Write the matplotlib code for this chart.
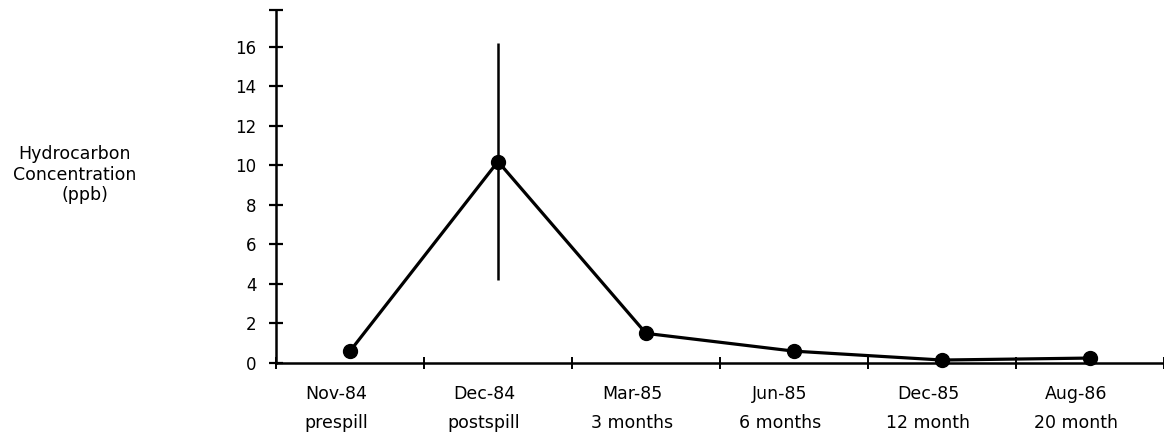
import matplotlib
matplotlib.use("Agg")
import matplotlib.pyplot as plt
import matplotlib.transforms as mtransforms
import numpy as np

# values
dates = ["Nov-84", "Dec-84", "Mar-85", "Jun-85", "Dec-85", "Aug-86"]
periods = ["prespill", "postspill", "3 months", "6 months", "12 month", "20 month"]
conc = [0.6, 10.2, 1.5, 0.6, 0.15, 0.25]
err = [0.0, 6.0, 0.0, 0.0, 0.0, 0.0]
y_ticks = [0, 2, 4, 6, 8, 10, 12, 14, 16]
Y_TOP = 17.87

plt.rcParams["font.family"] = ["DejaVu Sans"]

W, H = 1164, 438
fig = plt.figure(figsize=(W / 100, H / 100), dpi=100)
ax = fig.add_axes([276 / W, (H - 363) / H, (W - 276) / W, (363 - 10) / H])

x = np.arange(len(dates))
ax.plot(x, conc, color="black", linewidth=2.3, marker="o", markersize=10,
        clip_on=False, zorder=3)
has_err = np.array(err) > 0
ax.errorbar(x[has_err], np.array(conc)[has_err], yerr=np.array(err)[has_err],
            fmt="none", ecolor="black", elinewidth=1.8, capsize=0, zorder=2)

ax.set_xlim(-0.5, len(dates) - 0.5)
ax.set_ylim(0, Y_TOP)

for side in ["top", "right"]:
    ax.spines[side].set_visible(False)
for side in ["left", "bottom"]:
    ax.spines[side].set_linewidth(1.8)

ax.set_yticks(y_ticks)
ax.set_yticks([Y_TOP], minor=True)
ax.tick_params(axis="y", which="both", direction="inout", length=10, width=1.6,
               labelsize=12, pad=9)

ax.set_xticks(x)
ax.set_xticklabels([f"{d}\n{p}" for d, p in zip(dates, periods)],
                   linespacing=1.75)
ax.set_xticks(np.arange(-0.5, len(dates), 1.0), minor=True)
ax.tick_params(axis="x", which="major", length=0, labelsize=12.5, pad=16)
ax.tick_params(axis="x", which="minor", direction="inout", length=8, width=1.4)
shift = mtransforms.ScaledTranslation(-14 / 100, 0, fig.dpi_scale_trans)
for lab in ax.get_xticklabels():
    lab.set_transform(lab.get_transform() + shift)

fig.text(75 / W, 1 - 154 / H, "Hydrocarbon", ha="center", va="center", fontsize=12.5)
fig.text(75 / W, 1 - 175 / H, "Concentration", ha="center", va="center", fontsize=12.5)
fig.text(85 / W, 1 - 195 / H, "(ppb)", ha="center", va="center", fontsize=12.5)

fig.savefig("out.png", dpi=100)
